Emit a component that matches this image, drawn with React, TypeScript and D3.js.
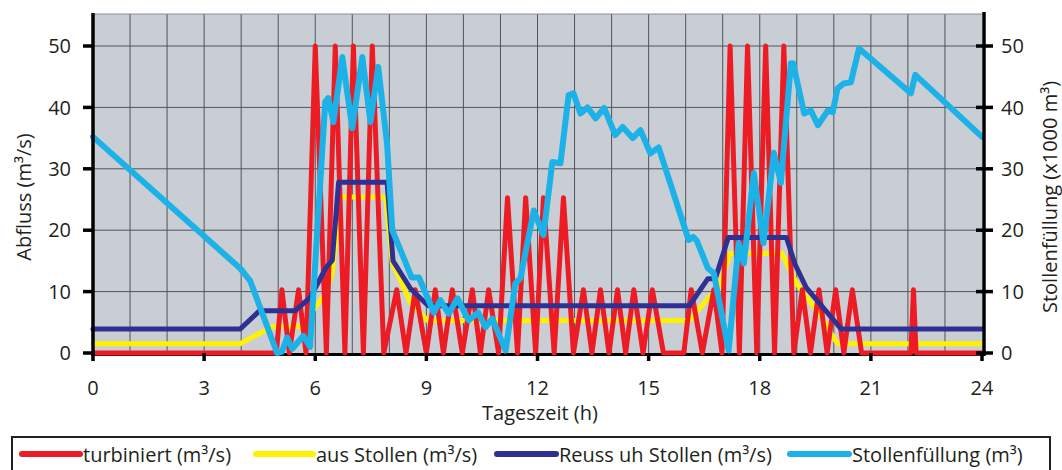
import React from 'react';
import * as d3 from 'd3';

// hours, values
const turbiniert: [number, number][] = [
  [0, 0], [4.95, 0], [5.1, 10.3], [5.3, 0], [5.55, 10.3], [5.75, 0],
  [6.0, 50], [6.3, 0], [6.54, 50], [6.8, 0], [7.03, 50], [7.3, 0], [7.54, 50], [7.85, 0],
  [8.2, 10.3], [8.45, 0], [8.7, 10.3], [9.0, 0], [9.24, 10.3], [9.46, 0], [9.7, 10.3], [9.97, 0],
  [10.24, 10.3], [10.46, 0], [10.68, 10.3], [10.95, 0],
  [11.19, 25.3], [11.46, 0], [11.68, 25.3], [11.95, 0], [12.16, 25.3], [12.45, 0], [12.7, 25.3], [12.97, 0],
  [13.24, 10.3], [13.47, 0], [13.7, 10.3], [13.93, 0], [14.16, 10.3], [14.38, 0], [14.6, 10.3], [14.85, 0],
  [15.1, 10.3], [15.4, 0], [15.95, 0], [16.15, 10.3], [16.45, 0], [16.76, 10.3], [16.98, 0],
  [17.2, 50], [17.45, 0], [17.67, 50], [17.92, 0], [18.16, 50], [18.4, 0], [18.65, 50], [18.92, 0],
  [19.15, 10.3], [19.37, 0], [19.6, 10.3], [19.82, 0], [20.05, 10.3], [20.27, 0], [20.5, 10.3], [20.75, 0],
  [22.08, 0], [22.15, 10.3], [22.22, 0], [24, 0],
];

const ausStollen: [number, number][] = [
  [0, 1.5], [3.97, 1.5], [4.84, 4.3], [5.6, 4.3], [6.3, 9.8], [6.46, 13.1], [6.68, 25.4],
  [7.9, 25.4], [8.08, 14.6], [8.3, 11.8], [8.57, 8.2], [9.03, 5.3], [16.1, 5.3], [16.7, 9.6],
  [16.85, 9.9], [17.2, 16.2], [18.6, 16.2], [19.0, 11.3], [19.6, 6.4], [20.1, 1.5], [24, 1.5],
];

const reussUh: [number, number][] = [
  [0, 3.9], [3.97, 3.9], [4.5, 6.9], [5.46, 6.9], [5.86, 9], [6.3, 14], [6.46, 15.1], [6.63, 27.8],
  [7.94, 27.8], [8.1, 15], [8.57, 10.5], [9.05, 7.7], [16.1, 7.7], [16.6, 12.1], [16.8, 12.1],
  [17.15, 18.8], [18.72, 18.8], [18.95, 14.5], [19.25, 10.7], [20.2, 3.9], [24, 3.9],
];

const stollenfuellung: [number, number][] = [
  [0, 35.2], [3.97, 13.8], [4.24, 11.8], [4.97, 0], [5.1, 0.2], [5.24, 2.5], [5.38, 0.7], [5.68, 2.8],
  [5.86, 1], [6.27, 40.9], [6.35, 41.5], [6.49, 37.6], [6.73, 48.2], [7.0, 36.6], [7.27, 48.2],
  [7.49, 37.6], [7.7, 46.6], [7.94, 34], [8.08, 20], [8.38, 15.6], [8.6, 12.3], [8.8, 12.3],
  [9.2, 6.6], [9.38, 8.6], [9.6, 6.4], [9.84, 8.9], [10.14, 5.3], [10.4, 6.6], [10.6, 4.2],
  [10.78, 5.6], [11.14, 0.4], [11.4, 11.3], [11.54, 12.2], [11.9, 23.2], [12.16, 19.2],
  [12.4, 31.1], [12.62, 30.9], [12.84, 42], [12.97, 42.3], [13.16, 39], [13.35, 40], [13.57, 38.2],
  [13.8, 39.9], [14.1, 35.5], [14.3, 36.8], [14.57, 35], [14.78, 36.3], [15.05, 32.5], [15.27, 33.5],
  [16.08, 18.4], [16.2, 18.9], [16.3, 18.3], [16.6, 13.8], [16.76, 13], [17.16, 0.4], [17.43, 17.9],
  [17.57, 14.6], [17.84, 29.3], [18.1, 17.9], [18.38, 32.6], [18.57, 27.7], [18.84, 47.2], [18.9, 47.2],
  [19.2, 39], [19.38, 39.5], [19.57, 37.1], [19.84, 39.5], [19.97, 39.2], [20.1, 43.1], [20.27, 43.9],
  [20.46, 44.1], [20.68, 49.6], [22.08, 42.3], [22.2, 45.3], [24, 35.2],
];

const xTicks = [0, 3, 6, 9, 12, 15, 18, 21, 24];
const yTicks = [0, 10, 20, 30, 40, 50];
const hourGrid = d3.range(1, 24);

const series = [
  { name: 'aus Stollen (m³/s)', data: ausStollen, color: '#fff200', width: 5 },
  { name: 'turbiniert (m³/s)', data: turbiniert, color: '#ed1c24', width: 5 },
  { name: 'Reuss uh Stollen (m³/s)', data: reussUh, color: '#2e3192', width: 5 },
  { name: 'Stollenfüllung (m³)', data: stollenfuellung, color: '#1cb2e8', width: 6 },
];

// legend order and placement
const legendItems = [
  { i: 1, x0: 22, x1: 80 },
  { i: 0, x0: 256, x1: 313 },
  { i: 2, x0: 497, x1: 556 },
  { i: 3, x0: 790, x1: 849 },
];

const font = "'Open Sans', sans-serif";
const ink = '#231f20';

export default function App() {
  const W = 1062, H = 470;
  const x = d3.scaleLinear().domain([0, 24]).range([93, 982]);
  const y = d3.scaleLinear().domain([0, 50]).range([353, 46]);
  const top = 14;
  const bottom = y(0);
  const line = d3.line<[number, number]>().x(d => x(d[0])).y(d => y(d[1]));

  return (
    <svg width={W} height={H} style={{ position: 'absolute', left: 0, top: 0, background: '#fff' }}
      fontFamily={font}>
      <rect x={x(0)} y={top} width={x(24) - x(0)} height={bottom - top} fill="#c9ced5" />
      {hourGrid.map(h => (
        <line key={'v' + h} x1={x(h)} x2={x(h)} y1={top} y2={bottom} stroke="#50555c" strokeWidth={1} />
      ))}
      {yTicks.filter(t => t > 0).map(t => (
        <line key={'h' + t} x1={x(0)} x2={x(24)} y1={y(t)} y2={y(t)} stroke="#50555c" strokeWidth={1} />
      ))}
      <line x1={x(0)} x2={x(24)} y1={top} y2={top} stroke="#8a9098" strokeWidth={1} />

      {/* bottom axis under the data */}
      <line x1={x(0)} x2={x(24) + 2} y1={bottom + 1.5} y2={bottom + 1.5} stroke="#000" strokeWidth={3} />

      {series.map(s => (
        <path key={s.name} d={line(s.data) || ''} fill="none" stroke={s.color} strokeWidth={s.width}
          strokeLinejoin="round" strokeLinecap="round" />
      ))}

      {/* left axis */}
      <line x1={x(0)} x2={x(0)} y1={top - 1} y2={bottom + 3} stroke="#000" strokeWidth={3.5} />
      {yTicks.map(t => (
        <g key={'l' + t}>
          <line x1={x(0) - 10} x2={x(0)} y1={y(t)} y2={y(t)} stroke="#000" strokeWidth={3.5} />
          <text x={71} y={y(t)} dy="0.36em" textAnchor="end" fontSize={20} fill={ink}>{t}</text>
        </g>
      ))}
      {/* right axis */}
      <line x1={x(24) + 2} x2={x(24) + 2} y1={top - 2} y2={bottom + 3} stroke="#000" strokeWidth={3.5} />
      {yTicks.map(t => (
        <g key={'r' + t}>
          <line x1={x(24) - 6} x2={x(24) + 11} y1={y(t)} y2={y(t)} stroke="#000" strokeWidth={3.5} />
          <text x={1001} y={y(t)} dy="0.36em" textAnchor="start" fontSize={20} fill={ink}>{t}</text>
        </g>
      ))}
      {/* bottom ticks */}
      {xTicks.map(t => (
        <g key={'b' + t}>
          <line x1={x(t)} x2={x(t)} y1={bottom} y2={bottom + 8} stroke="#000" strokeWidth={3.5} />
          <text x={x(t)} y={395} textAnchor="middle" fontSize={20} fill={ink}>{t}</text>
        </g>
      ))}

      <text x={540} y={420} textAnchor="middle" fontSize={20} fill={ink}>Tageszeit (h)</text>
      <text transform="translate(31,197) rotate(-90)" textAnchor="middle" fontSize={20} fill={ink}>Abfluss (m³/s)</text>
      <text transform="translate(1057,197) rotate(-90)" textAnchor="middle" fontSize={20} fill={ink}>Stollenfüllung (x1000 m³)</text>

      {/* legend */}
      <rect x={12} y={437} width={1038} height={45} fill="#fff" stroke={ink} strokeWidth={2} />
      {legendItems.map(it => {
        const s = series[it.i];
        return (
          <g key={s.name}>
            <line x1={it.x0} x2={it.x1} y1={454} y2={454} stroke={s.color} strokeWidth={6} strokeLinecap="round" />
            <text x={it.x1 + 3} y={462} fontSize={20} fill={ink}>{s.name}</text>
          </g>
        );
      })}
    </svg>
  );
}
